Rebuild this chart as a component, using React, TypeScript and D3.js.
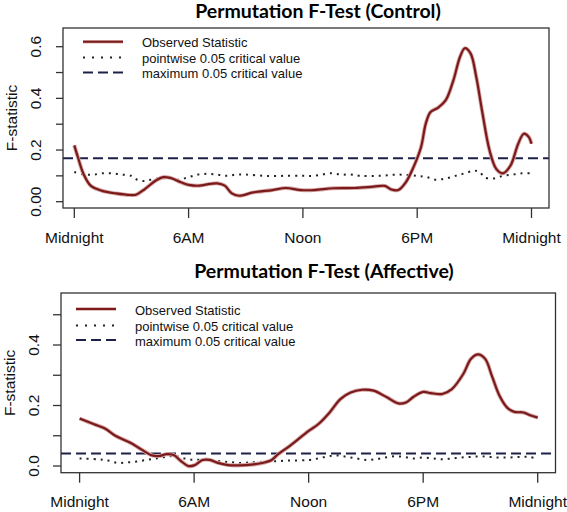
import React from "react";
import * as d3 from "d3";

// ---------- data ----------
const xTickHours = [0, 6, 12, 18, 24];
const xTickLabels = ["Midnight", "6AM", "Noon", "6PM", "Midnight"];

const legendLabels = ["Observed Statistic", "pointwise 0.05 critical value", "maximum 0.05 critical value"];

// Control panel
const ctrlTitle = "Permutation F-Test (Control)";
const ctrlYTicks = [0, 0.1, 0.2, 0.3, 0.4, 0.5, 0.6];
const ctrlYLabelValues = [0, 0.2, 0.4, 0.6];
const ctrlYLabels = ["0.00", "0.2", "0.4", "0.6"];
const ctrlObsHour = [0, 0.19, 0.48, 0.86, 1.43, 2.19, 2.95, 3.23, 3.7, 4.28, 4.66, 5.04, 5.6, 6.0, 6.56, 7.13, 7.5, 7.9, 8.27, 8.65, 9.4, 10.4, 11.1, 11.9, 12.6, 13.6, 14.7, 15.7, 16.3, 16.65, 17.0, 17.4, 17.8, 18.2, 18.45, 18.7, 19.1, 19.5, 19.9, 20.25, 20.5, 20.8, 21.1, 21.4, 21.8, 22.15, 22.5, 22.9, 23.3, 23.6, 23.86, 24];
const ctrlObsValue = [0.218, 0.172, 0.108, 0.062, 0.043, 0.032, 0.026, 0.027, 0.049, 0.082, 0.095, 0.092, 0.075, 0.065, 0.062, 0.069, 0.071, 0.062, 0.032, 0.023, 0.036, 0.045, 0.053, 0.045, 0.045, 0.052, 0.053, 0.058, 0.061, 0.047, 0.045, 0.075, 0.133, 0.211, 0.302, 0.347, 0.364, 0.393, 0.47, 0.561, 0.594, 0.574, 0.483, 0.354, 0.198, 0.127, 0.11, 0.14, 0.224, 0.263, 0.25, 0.224];
const ctrlPointHour = [0, 0.5, 1, 1.5, 2, 2.5, 3, 3.3, 3.7, 4, 4.5, 5, 5.5, 6, 6.5, 7, 7.5, 8, 8.5, 9, 10, 11, 12, 12.5, 13, 13.5, 14, 14.5, 15, 16, 17, 18, 18.5, 19, 19.5, 20, 20.5, 21, 21.3, 21.5, 22, 22.5, 23, 23.5, 24];
const ctrlPointValue = [0.115, 0.105, 0.105, 0.11, 0.11, 0.105, 0.1, 0.085, 0.08, 0.085, 0.09, 0.09, 0.085, 0.095, 0.105, 0.108, 0.105, 0.1, 0.105, 0.105, 0.1, 0.1, 0.1, 0.1, 0.105, 0.11, 0.105, 0.105, 0.1, 0.1, 0.105, 0.1, 0.095, 0.085, 0.09, 0.1, 0.11, 0.12, 0.115, 0.095, 0.09, 0.1, 0.105, 0.11, 0.11];
const ctrlMaxCritical = 0.168;

// Affective panel
const affTitle = "Permutation F-Test (Affective)";
const affYTicks = [0, 0.1, 0.2, 0.3, 0.4, 0.5];
const affYLabelValues = [0, 0.2, 0.4];
const affYLabels = ["0.0", "0.2", "0.4"];
const affObsHour = [0, 0.76, 1.33, 1.9, 2.66, 3.23, 3.8, 4.17, 4.55, 4.93, 5.3, 5.69, 6.0, 6.45, 6.83, 7.2, 7.78, 8.7, 9.5, 10.06, 10.4, 11.0, 12.0, 12.5, 13.1, 13.66, 14.2, 14.8, 15.4, 16.1, 16.7, 17.1, 17.5, 18.0, 18.4, 19.0, 19.5, 20.1, 20.5, 20.87, 21.25, 21.6, 22.0, 22.4, 22.77, 23.25, 23.6, 24];
const affObsValue = [0.157, 0.138, 0.124, 0.099, 0.077, 0.055, 0.035, 0.033, 0.039, 0.036, 0.017, 0.0, 0.002, 0.02, 0.02, 0.011, 0.003, 0.003, 0.009, 0.02, 0.039, 0.066, 0.116, 0.138, 0.177, 0.221, 0.243, 0.252, 0.249, 0.227, 0.207, 0.21, 0.229, 0.245, 0.241, 0.238, 0.254, 0.304, 0.354, 0.369, 0.354, 0.298, 0.232, 0.193, 0.179, 0.177, 0.168, 0.16];
const affPointHour = [0, 1, 1.5, 2, 2.5, 3, 3.5, 4, 4.5, 5, 5.5, 6, 6.5, 7, 7.5, 8, 8.5, 9, 10, 11, 12, 12.5, 13, 13.5, 14, 14.5, 15, 15.5, 16, 16.5, 17, 17.5, 18, 18.5, 19, 19.5, 20, 20.5, 21, 21.5, 22, 22.5, 23, 23.5, 24];
const affPointValue = [0.025, 0.022, 0.018, 0.01, 0.012, 0.015, 0.02, 0.025, 0.03, 0.033, 0.025, 0.02, 0.022, 0.018, 0.015, 0.012, 0.01, 0.012, 0.015, 0.018, 0.02, 0.025, 0.032, 0.035, 0.03, 0.025, 0.02, 0.022, 0.028, 0.032, 0.03, 0.025, 0.028, 0.025, 0.022, 0.025, 0.028, 0.03, 0.032, 0.03, 0.028, 0.028, 0.03, 0.03, 0.025];
const affMaxCritical = 0.041;

// ---------- drawing ----------
const OBS_COLOR = "#7a1a1a";
const OBS_HALO = "#d8aaaa";
const DASH_COLOR = "#1c2148";
const AXIS_COLOR = "#333";
const FONT = "'Liberation Sans', Arial, sans-serif";
const TITLE_FONT = "Lato, 'Open Sans', sans-serif";

type PanelProps = {
  title: string;
  titleX: number;
  titleY: number;
  box: { x0: number; x1: number; y0: number; y1: number };
  xRange: [number, number];
  yDomain: [number, number];
  yRange: [number, number];
  yTicks: number[];
  yLabelValues: number[];
  yLabels: string[];
  obsHour: number[];
  obsValue: number[];
  ptHour: number[];
  ptValue: number[];
  maxCrit: number;
  legend: { lineX0: number; lineX1: number; textX: number; ys: number[] };
  xLabelY: number;
  yLabelX: number;
  fLabelX: number;
  yTickLen: number;
};

function Panel(p: PanelProps) {
  const x = d3.scaleLinear().domain([0, 24]).range(p.xRange);
  const y = d3.scaleLinear().domain(p.yDomain).range(p.yRange);
  const obsLine = d3
    .line<number>()
    .x((_, i) => x(p.obsHour[i]))
    .y((v) => y(v))
    .curve(d3.curveCatmullRom.alpha(0.5));
  const ptLine = d3
    .line<number>()
    .x((_, i) => x(p.ptHour[i]))
    .y((v) => y(v))
    .curve(d3.curveCatmullRom.alpha(0.5));
  const obsPath = obsLine(p.obsValue) || "";
  const ptPath = ptLine(p.ptValue) || "";
  const { x0, x1, y0, y1 } = p.box;
  const midY = (y0 + y1) / 2;
  const lg = p.legend;
  return (
    <g>
      <text
        x={p.titleX}
        y={p.titleY}
        textAnchor="middle"
        fontFamily={TITLE_FONT}
        fontWeight="bold"
        fontSize={19.5}
        fill="#000"
      >
        {p.title}
      </text>
      <defs>
        <clipPath id={"clip" + p.titleY}>
          <rect x={x0} y={y0} width={x1 - x0} height={y1 - y0} />
        </clipPath>
      </defs>
      <g clipPath={`url(#clip${p.titleY})`}>
        <line
          x1={x0}
          x2={x1}
          y1={y(p.maxCrit)}
          y2={y(p.maxCrit)}
          stroke={DASH_COLOR}
          strokeWidth={2}
          strokeDasharray="10,5"
        />
      </g>
      <path d={ptPath} fill="none" stroke="#222" strokeWidth={2} strokeDasharray="2,5" />
      <path d={obsPath} fill="none" stroke={OBS_HALO} strokeWidth={4} strokeLinejoin="round" />
      <path d={obsPath} fill="none" stroke={OBS_COLOR} strokeWidth={2.2} strokeLinejoin="round" />
      <rect x={x0} y={y0} width={x1 - x0} height={y1 - y0} fill="none" stroke={AXIS_COLOR} strokeWidth={1.3} />
      {/* x axis */}
      {xTickHours.map((h, i) => (
        <g key={"xt" + i}>
          <line x1={x(h)} x2={x(h)} y1={y1} y2={y1 + 10} stroke={AXIS_COLOR} strokeWidth={1.3} />
          <text x={x(h)} y={p.xLabelY} textAnchor="middle" fontFamily={FONT} fontSize={15.5} fill="#111">
            {xTickLabels[i]}
          </text>
        </g>
      ))}
      {/* y axis */}
      {p.yTicks.map((v, i) => (
        <line key={"yt" + i} x1={x0 - p.yTickLen} x2={x0} y1={y(v)} y2={y(v)} stroke={AXIS_COLOR} strokeWidth={1.3} />
      ))}
      {p.yLabelValues.map((v, i) => (
        <text
          key={"yl" + i}
          transform={`translate(${p.yLabelX},${y(v)}) rotate(-90)`}
          textAnchor="middle"
          dominantBaseline="central"
          fontFamily={FONT}
          fontSize={15.5}
          fill="#111"
        >
          {p.yLabels[i]}
        </text>
      ))}
      <text
        transform={`translate(${p.fLabelX},${midY}) rotate(-90)`}
        textAnchor="middle"
        dominantBaseline="central"
        fontFamily={FONT}
        fontSize={15.5}
        fill="#111"
      >
        F-statistic
      </text>
      {/* legend */}
      <line x1={lg.lineX0} x2={lg.lineX1} y1={lg.ys[0]} y2={lg.ys[0]} stroke={OBS_HALO} strokeWidth={3.5} />
      <line x1={lg.lineX0} x2={lg.lineX1} y1={lg.ys[0]} y2={lg.ys[0]} stroke={OBS_COLOR} strokeWidth={2} />
      <line x1={lg.lineX0} x2={lg.lineX1} y1={lg.ys[1]} y2={lg.ys[1]} stroke="#222" strokeWidth={2} strokeDasharray="2,7" />
      <line x1={lg.lineX0} x2={lg.lineX1} y1={lg.ys[2]} y2={lg.ys[2]} stroke={DASH_COLOR} strokeWidth={2} strokeDasharray="10,5" />
      {legendLabels.map((t, i) => (
        <text
          key={"lg" + i}
          x={lg.textX}
          y={lg.ys[i] + 1}
          dominantBaseline="central"
          fontFamily={FONT}
          fontSize={13}
          fill="#111"
        >
          {t}
        </text>
      ))}
    </g>
  );
}

export default function App() {
  return (
    <svg
      width={567}
      height={512}
      style={{ position: "absolute", left: 0, top: 0, background: "#fff" }}
      xmlns="http://www.w3.org/2000/svg"
    >
      <rect x={0} y={0} width={567} height={512} fill="#fff" />
      <Panel
        title={ctrlTitle}
        titleX={318}
        titleY={18}
        box={{ x0: 63, x1: 549, y0: 28, y1: 208 }}
        xRange={[74.3, 531.5]}
        yDomain={[0, 0.6]}
        yRange={[201.7, 46.7]}
        yTicks={ctrlYTicks}
        yLabelValues={ctrlYLabelValues}
        yLabels={ctrlYLabels}
        obsHour={ctrlObsHour}
        obsValue={ctrlObsValue}
        ptHour={ctrlPointHour}
        ptValue={ctrlPointValue}
        maxCrit={ctrlMaxCritical}
        legend={{ lineX0: 83, lineX1: 123, textX: 142, ys: [41.7, 57.5, 72.5] }}
        xLabelY={243}
        yLabelX={35}
        fLabelX={11}
        yTickLen={7}
      />
      <Panel
        title={affTitle}
        titleX={324}
        titleY={278}
        box={{ x0: 61, x1: 555.5, y0: 293, y1: 472.7 }}
        xRange={[79.6, 537.7]}
        yDomain={[0, 0.4]}
        yRange={[466, 345]}
        yTicks={affYTicks}
        yLabelValues={affYLabelValues}
        yLabels={affYLabels}
        obsHour={affObsHour}
        obsValue={affObsValue}
        ptHour={affPointHour}
        ptValue={affPointValue}
        maxCrit={affMaxCritical}
        legend={{ lineX0: 76, lineX1: 116, textX: 135, ys: [309, 325.5, 340] }}
        xLabelY={507}
        yLabelX={33}
        fLabelX={9}
        yTickLen={8}
      />
    </svg>
  );
}
